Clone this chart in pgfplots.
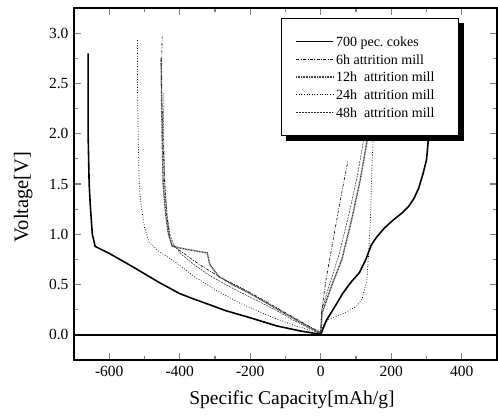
\documentclass[border=0pt]{standalone}
\usepackage{fontspec}
\setmainfont{Liberation Serif}
\usepackage{pgfplots}
\pgfplotsset{compat=1.18}

\begin{document}
\begin{tikzpicture}
\begin{axis}[
    scale only axis,
    width=423pt, height=352pt,
    xmin=-700, xmax=500,
    ymin=-0.25, ymax=3.25,
    xtick={-600,-400,-200,0,200,400},
    minor xtick={-500,-300,-100,100,300},
    ytick={0,0.5,1.0,1.5,2.0,2.5,3.0},
    minor ytick={0.25,0.75,1.25,1.75,2.25,2.75},
    /pgf/number format/assume math mode=true,
    yticklabel style={/pgf/number format/fixed, /pgf/number format/fixed zerofill,
        /pgf/number format/precision=1, xshift=-2pt},
    tick label style={font=\fontsize{15.5}{18}\selectfont},
    xticklabel style={yshift=-3pt},
    axis line style={line width=1.3pt},
    major tick style={line width=1.1pt},
    minor tick style={line width=1.1pt},
    major tick length=7pt,
    minor tick length=4pt,
    xlabel={Specific Capacity[mAh/g]},
    ylabel={Voltage[V]},
    xlabel style={font=\fontsize{19.5}{22}\selectfont, at={(axis description cs:0.5154,-0.1278)}, anchor=base},
    ylabel style={font=\fontsize{20.5}{23}\selectfont, at={(axis description cs:-0.1087,0.463)}, anchor=base},
    legend cell align=left,
    legend image code/.code={\draw[#1] (0pt,0pt) -- (37pt,0pt);},
    legend style={
        name=leg,
        at={(axis description cs:0.4894,0.9707)}, anchor=north west,
        font=\fontsize{14}{16}\selectfont,
        draw=black, line width=0.9pt, fill=white,
        inner xsep=14pt, inner ysep=14.5pt,
        row sep=1pt,
    },
]
% zero line
\addplot[black, line width=1.5pt, forget plot] coordinates {(-700,0) (500,0)};

% 700 pec. cokes
\addplot[black, line width=1.6pt] coordinates {
(-660,2.80) (-660,2.00) (-657,1.50) (-654,1.30) (-648,1.00) (-640,0.88)
(-600,0.81) (-530,0.67) (-458,0.52) (-400,0.41) (-363,0.36) (-300,0.28)
(-269,0.24) (-200,0.17) (-126,0.09) (-60,0.04) (-3,0.007)
(0,0) (5,0.05) (16,0.145) (40,0.28) (62,0.41) (85,0.52) (110,0.62)
(128,0.75) (143,0.89) (158,0.97) (180,1.06) (205,1.14) (230,1.21)
(250,1.28) (265,1.36) (278,1.46) (290,1.60) (300,1.74) (305,1.93) (308,2.10)
};
\addlegendentry{\strut 700 pec.\ cokes}

% 6h attrition mill
\addplot[black, line width=0.6pt, dash pattern=on 3pt off 1.5pt on 0.8pt off 1.5pt] coordinates {
(-450,2.97) (-452,2.50) (-448,2.00) (-443,1.50) (-437,1.20) (-430,1.00)
(-424,0.90) (-400,0.84) (-373,0.77) (-340,0.69) (-312,0.63) (-280,0.56)
(-232,0.48) (-180,0.38) (-130,0.28) (-80,0.18) (-35,0.09) (0,0.02)
(2,0.22) (15,0.55) (37,0.98) (55,1.33) (77,1.73)
};
\addlegendentry{\strut 6h attrition mill}

% 12h attrition mill
\addplot[black!75, line width=1.4pt, dash pattern=on 1pt off 0.6pt] coordinates {
(-453,2.75) (-452,2.50) (-450,2.00) (-447,1.50) (-440,1.20) (-432,1.00)
(-421,0.88) (-380,0.85) (-322,0.815) (-315,0.70) (-289,0.58) (-250,0.50)
(-200,0.41) (-150,0.31) (-100,0.21) (-50,0.11) (0,0.02)
(4,0.22) (31,0.49) (60,0.75) (88,1.15) (112,1.54) (131,1.92) (137,2.10)
};
\addlegendentry{\strut 12h~ attrition mill\hspace*{8pt}}

% 24h attrition mill
\addplot[black, line width=0.7pt, dash pattern=on 0.8pt off 1.8pt] coordinates {
(-520,2.93) (-520,2.50) (-518,2.00) (-515,1.50) (-510,1.30) (-500,1.07)
(-487,0.92) (-459,0.83) (-411,0.72) (-355,0.57) (-300,0.45) (-232,0.32)
(-180,0.24) (-138,0.175) (-80,0.10) (-25,0.04) (0,0.01)
(8,0.10) (23,0.155) (50,0.19) (79,0.24) (100,0.28) (117,0.35) (131,0.55)
(136,0.82) (141,1.15) (145,1.64) (148,1.90) (150,2.10)
};
\addlegendentry{\strut 24h~ attrition mill}

% 48h attrition mill
\addplot[black!85, line width=0.5pt, dash pattern=on 2pt off 1pt] coordinates {
(-445,2.40) (-446,2.00) (-442,1.50) (-436,1.20) (-428,1.00) (-418,0.90)
(-395,0.80) (-360,0.70) (-320,0.60) (-280,0.52) (-232,0.43) (-180,0.34)
(-130,0.25) (-80,0.15) (-35,0.07) (0,0.01)
(3,0.25) (25,0.50) (52,0.80) (80,1.20) (105,1.60) (122,1.95) (127,2.10)
};
\addlegendentry{\strut 48h~ attrition mill}
\end{axis}
% legend shadow
\fill[black] ([yshift=-5pt]leg.north east) rectangle ([xshift=5pt,yshift=-5pt]leg.south east);
\fill[black] ([xshift=5pt]leg.south west) rectangle ([xshift=5pt,yshift=-5pt]leg.south east);
\pgfresetboundingbox
\path (-74pt,-57pt) rectangle (424pt,360pt);
\end{tikzpicture}
\end{document}
